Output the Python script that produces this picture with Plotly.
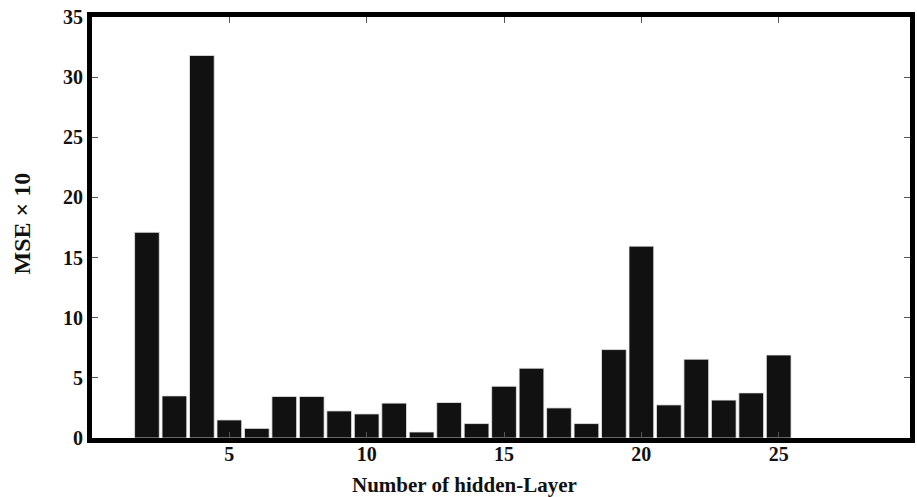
import plotly.graph_objects as go

layers = list(range(2, 26))
mse = [17.1, 3.5, 31.8, 1.5, 0.8, 3.45, 3.45, 2.25, 2.0, 2.9, 0.5, 2.95,
       1.2, 4.3, 5.8, 2.5, 1.2, 7.35, 15.95, 2.75, 6.55, 3.15, 3.75, 6.9]
x_ticks = [5, 10, 15, 20, 25]
y_ticks = [0, 5, 10, 15, 20, 25, 30, 35]
x_title = "Number of hidden-Layer"
y_title = "MSE × 10"

font_family = "Liberation Serif, Times New Roman, serif"

fig = go.Figure(go.Bar(
    x=layers, y=mse, width=0.9,
    marker=dict(color="#111111", line=dict(color="#e8e8e8", width=0.8)),
))

L, R, T, B = 92, 2, 17, 59
W, H = 917, 497
pw, ph = W - L - R, H - T - B

fig.update_layout(
    width=W, height=H,
    margin=dict(l=L, r=R, t=T, b=B),
    paper_bgcolor="white", plot_bgcolor="white",
    showlegend=False,
    font=dict(family=font_family, size=18, color="#111111"),
)
fig.update_xaxes(
    range=[0, 29.78], tickvals=x_ticks, ticks="inside", ticklen=6, tickwidth=1,
    tickcolor="#555555", showline=True, linecolor="black", linewidth=5, mirror="ticks",
    showgrid=False, zeroline=False, ticklabelstandoff=-6,
    tickfont=dict(family=font_family, size=20, color="#111111", weight="bold"),
)
fig.update_yaxes(
    range=[0, 35], tickvals=y_ticks, ticks="inside", ticklen=6, tickwidth=1,
    tickcolor="#555555", showline=True, linecolor="black", linewidth=5, mirror="ticks",
    showgrid=False, zeroline=False, ticklabelstandoff=0,
    tickfont=dict(family=font_family, size=20, color="#111111", weight="bold"),
)
fig.add_annotation(
    text=f"<b>{x_title}</b>", xref="paper", yref="paper",
    x=(467 - L) / pw, y=-(485 - (H - B)) / ph, xanchor="center", yanchor="middle",
    showarrow=False, font=dict(family=font_family, size=21, color="#111111"),
)
fig.add_annotation(
    text=f"<b>{y_title}</b>", xref="paper", yref="paper",
    x=-(L - 22) / pw, y=1 - (223 - T) / ph, xanchor="center", yanchor="middle",
    textangle=-90, showarrow=False,
    font=dict(family=font_family, size=24, color="#111111"),
)

fig.write_html("out.html")
